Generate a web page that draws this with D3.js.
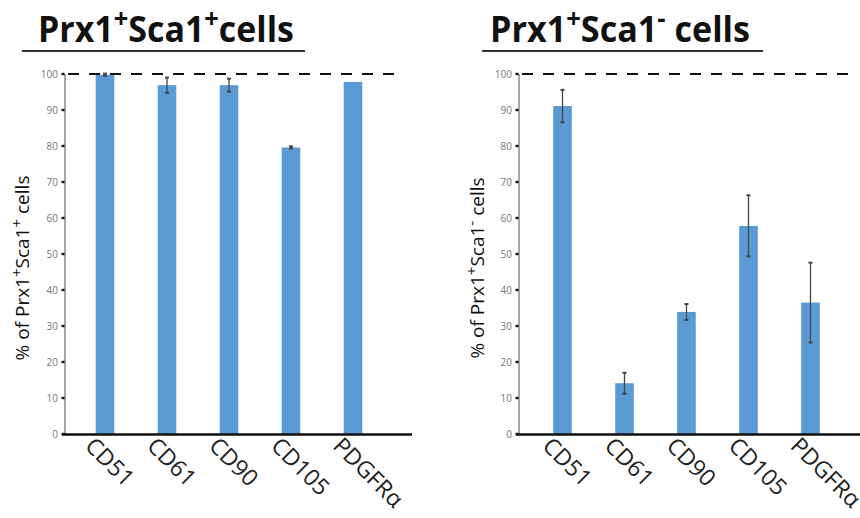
<!DOCTYPE html>
<html>
<head>
<meta charset="utf-8">
<script src="https://cdn.jsdelivr.net/npm/d3@7"></script>
<style>
  body { margin: 0; background: #fff; }
  svg { display: block; }
</style>
</head>
<body>
<svg id="chart" width="860" height="518"></svg>
<script>
// values
const markers = ['CD51', 'CD61', 'CD90', 'CD105', 'PDGFRα'];
const posMean = [99.8, 96.9, 96.9, 79.6, 97.8];
const posErr = [0.3, 2.1, 1.8, 0.3, 0];
const negMean = [91.1, 14.1, 33.9, 57.8, 36.5];
const negErr = [4.5, 2.9, 2.2, 8.5, 11.1];
const yTicks = [0, 10, 20, 30, 40, 50, 60, 70, 80, 90, 100];

const svg = d3.select('#chart');

function drawTitle(x, y, parts, target, line) {
  const t = svg.append('text')
    .attr('font-family', '"Open Sans", sans-serif')
    .attr('font-weight', 'bold')
    .attr('font-size', 36)
    .attr('fill', '#111');
  parts.forEach(p => {
    const s = t.append('tspan').text(p[0]);
    if (p[1] === 'sup') s.attr('font-size', 27).attr('baseline-shift', '55%');
  });
  const w = t.node().getComputedTextLength();
  t.attr('transform', `translate(${x},${y}) scale(${target / w},1)`);
  svg.append('line')
    .attr('x1', line[0]).attr('x2', line[1])
    .attr('y1', 51).attr('y2', 51)
    .attr('stroke', '#333').attr('stroke-width', 2);
}

function drawPanel(cfg) {
  const y = d3.scaleLinear().domain([0, 100]).range([434, 74]);
  const x = d3.scaleBand().domain(markers).range(cfg.band).paddingInner(0.7).paddingOuter(0.35);
  const g = svg.append('g');

  // axis line
  g.append('line')
    .attr('x1', cfg.axisX).attr('x2', cfg.axisX)
    .attr('y1', y(100)).attr('y2', y(0))
    .attr('stroke', '#888').attr('stroke-width', 1.5);

  // ticks and labels
  g.selectAll('.tick').data(yTicks).join('rect')
    .attr('x', cfg.axisX - 3.5).attr('y', d => y(d) - 1.2)
    .attr('width', 3).attr('height', 2.4)
    .attr('fill', '#111');
  g.selectAll('.tl').data(yTicks).join('text')
    .attr('x', cfg.axisX - 7).attr('y', d => y(d))
    .attr('dy', '0.35em')
    .attr('text-anchor', 'end')
    .attr('font-family', '"Open Sans", sans-serif')
    .attr('font-size', 10)
    .attr('fill', '#777')
    .text(d => d);

  // bars
  g.selectAll('.bar').data(cfg.mean).join('rect')
    .attr('x', (d, i) => x(markers[i]))
    .attr('y', d => y(d))
    .attr('width', x.bandwidth())
    .attr('height', d => y(0) - y(d))
    .attr('fill', '#5b9bd5');

  // error bars
  const eb = g.selectAll('.err').data(cfg.mean.map((m, i) => ({m, e: cfg.err[i], k: markers[i]})).filter(d => d.e > 0))
    .join('g')
    .attr('stroke', '#444').attr('stroke-width', 1.3);
  eb.append('line')
    .attr('x1', d => x(d.k) + x.bandwidth() / 2).attr('x2', d => x(d.k) + x.bandwidth() / 2)
    .attr('y1', d => y(d.m + d.e)).attr('y2', d => y(d.m - d.e));
  eb.append('line')
    .attr('x1', d => x(d.k) + x.bandwidth() / 2 - 2).attr('x2', d => x(d.k) + x.bandwidth() / 2 + 2)
    .attr('y1', d => y(d.m + d.e)).attr('y2', d => y(d.m + d.e)).attr('stroke-width', 2);
  eb.append('line')
    .attr('x1', d => x(d.k) + x.bandwidth() / 2 - 2).attr('x2', d => x(d.k) + x.bandwidth() / 2 + 2)
    .attr('y1', d => y(d.m - d.e)).attr('y2', d => y(d.m - d.e)).attr('stroke-width', 2);

  // 100% reference line
  g.append('line')
    .attr('x1', cfg.axisX + 3).attr('x2', cfg.dashEnd)
    .attr('y1', y(100)).attr('y2', y(100))
    .attr('stroke', '#111').attr('stroke-width', 2)
    .attr('stroke-dasharray', '11,10');

  // x axis
  g.append('line')
    .attr('x1', cfg.axisX - 3).attr('x2', cfg.xEnd)
    .attr('y1', y(0) + 0.5).attr('y2', y(0) + 0.5)
    .attr('stroke', '#111').attr('stroke-width', 2.5);

  g.selectAll('.xl').data(markers).join('text')
    .attr('transform', d => `translate(${x(d) + x.bandwidth() / 2 - 9},${y(0) + 1}) rotate(45)`)
    .attr('dy', '0.75em')
    .attr('font-family', '"Open Sans", sans-serif')
    .attr('font-size', 23)
    .attr('fill', '#222')
    .text(d => d);

  // y title
  const yt = g.append('text')
    .attr('transform', `translate(${cfg.titleX},${y(50) + 14}) rotate(-90)`)
    .attr('text-anchor', 'middle')
    .attr('font-family', '"Open Sans", sans-serif')
    .attr('font-size', 19)
    .attr('fill', '#111');
  yt.append('tspan').text('% of Prx1');
  yt.append('tspan').text('+').attr('font-size', 15).attr('baseline-shift', '45%');
  yt.append('tspan').text('Sca1');
  yt.append('tspan').text(cfg.sign).attr('font-size', 15).attr('baseline-shift', '45%');
  yt.append('tspan').text(' cells');
}

drawTitle(38, 42, [['Prx1'], ['+', 'sup'], ['Sca1'], ['+', 'sup'], ['cells']], 256, [22, 305]);
drawTitle(490, 42, [['Prx1'], ['+', 'sup'], ['Sca1'], ['-', 'sup'], [' cells']], 260, [482, 763]);

drawPanel({mean: posMean, err: posErr, band: [74, 384], axisX: 65, dashEnd: 396, xEnd: 412, titleX: 29, sign: '+'});
drawPanel({mean: negMean, err: negErr, band: [531.5, 841.5], axisX: 519, dashEnd: 858, xEnd: 860, titleX: 484, sign: '-'});
</script>
</body>
</html>
